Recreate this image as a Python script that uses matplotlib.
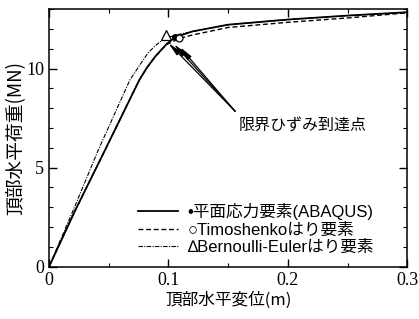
import matplotlib
matplotlib.use("Agg")
from matplotlib import pyplot as plt
from matplotlib.ticker import MultipleLocator
import numpy as np

# 平面応力要素(ABAQUS)
x_abaqus = [0, 0.022, 0.047, 0.0757, 0.082, 0.0888, 0.094, 0.0986, 0.1055, 0.12, 0.15, 0.2, 0.25, 0.3]
y_abaqus = [0, 2.85, 5.9, 9.44, 10.05, 10.6, 10.95, 11.25, 11.58, 11.88, 12.22, 12.48, 12.68, 12.85]
# Timoshenko はり要素
x_timo = [0, 0.022, 0.047, 0.0757, 0.082, 0.0888, 0.094, 0.0986, 0.109, 0.12, 0.15, 0.2, 0.25, 0.3]
y_timo = [0, 2.85, 5.9, 9.44, 10.05, 10.6, 10.95, 11.22, 11.52, 11.7, 12.08, 12.34, 12.56, 12.82]
# Bernoulli-Euler はり要素
x_be = [0, 0.0204, 0.0413, 0.0678, 0.0762, 0.083, 0.0888, 0.094, 0.098, 0.11, 0.15, 0.2, 0.25, 0.3]
y_be = [0, 2.87, 5.9, 9.44, 10.2, 10.8, 11.15, 11.4, 11.55, 11.75, 12.22, 12.48, 12.68, 12.85]

# 限界ひずみ到達点
pt_abaqus = (0.1055, 11.62)
pt_timo = (0.109, 11.55)
pt_be = (0.098, 11.68)
arrow_tail = (0.1558, 7.85)
arrow_heads = [(0.0999, 11.3), (0.1045, 11.25), (0.1095, 11.1)]

cjk = ['Noto Sans CJK JP', 'DejaVu Sans']
leg_font = ['Liberation Sans', 'Noto Sans CJK JP', 'DejaVu Sans']
plt.rcParams['font.family'] = ['Liberation Serif']

fig = plt.figure(figsize=(4.19, 3.19), dpi=100)
ax = fig.add_axes([0.117, 0.164, 0.855, 0.807])

ax.plot(x_abaqus, y_abaqus, color='black', lw=1.3, ls='-',
        label='•平面応力要素(ABAQUS)')
ax.plot(x_timo, y_timo, color='black', lw=1.0, ls=(0, (3.5, 2)),
        label='○Timoshenkoはり要素')
ax.plot(x_be, y_be, color='black', lw=0.8, ls=(0, (4, 1.2, 1, 1.2)),
        label='∆Bernoulli-Eulerはり要素')

ax.plot(*pt_be, marker='^', ms=7.5, mfc='white', mec='black', mew=0.9, zorder=5)
ax.plot(*pt_abaqus, marker='o', ms=4, mfc='black', mec='black', zorder=5)
ax.plot(*pt_timo, marker='o', ms=5, mfc='white', mec='black', mew=0.9, zorder=5)

for hx, hy in arrow_heads:
    ax.annotate('', xy=(hx, hy), xytext=arrow_tail,
                arrowprops=dict(arrowstyle='-|>,head_length=0.8,head_width=0.15',
                                color='black', lw=0.9, shrinkA=0, shrinkB=0))
ax.text(0.1585, 7.1, '限界ひずみ到達点', family=cjk, fontsize=11.5,
        ha='left', va='center')

ax.set_xlim(0, 0.3)
ax.set_ylim(0, 13)
ax.xaxis.set_minor_locator(MultipleLocator(0.05))
ax.yaxis.set_major_locator(MultipleLocator(5))
ax.yaxis.set_minor_locator(MultipleLocator(1))
ax.set_xticks([0, 0.1, 0.2, 0.3])
ax.set_xticklabels(['0', '0.1', '0.2', '0.3'])
ax.tick_params(which='both', direction='in', top=True, right=True, labelsize=13)
ax.tick_params(which='major', length=6, width=1)
ax.tick_params(which='minor', length=3, width=0.8)
for s in ax.spines.values():
    s.set_linewidth(1.1)

ax.set_xlabel('頂部水平変位(m)', family=cjk, fontsize=12, labelpad=2)
ax.set_ylabel('頂部水平荷重(MN)', family=cjk, fontsize=13.5, labelpad=0)

ax.legend(loc='lower left', bbox_to_anchor=(0.215, 0.0), frameon=False,
          prop={'family': leg_font, 'size': 12}, handlelength=2.4,
          handletextpad=0.6, labelspacing=0.15, borderpad=0.2)

fig.savefig('out.png', dpi=100)
